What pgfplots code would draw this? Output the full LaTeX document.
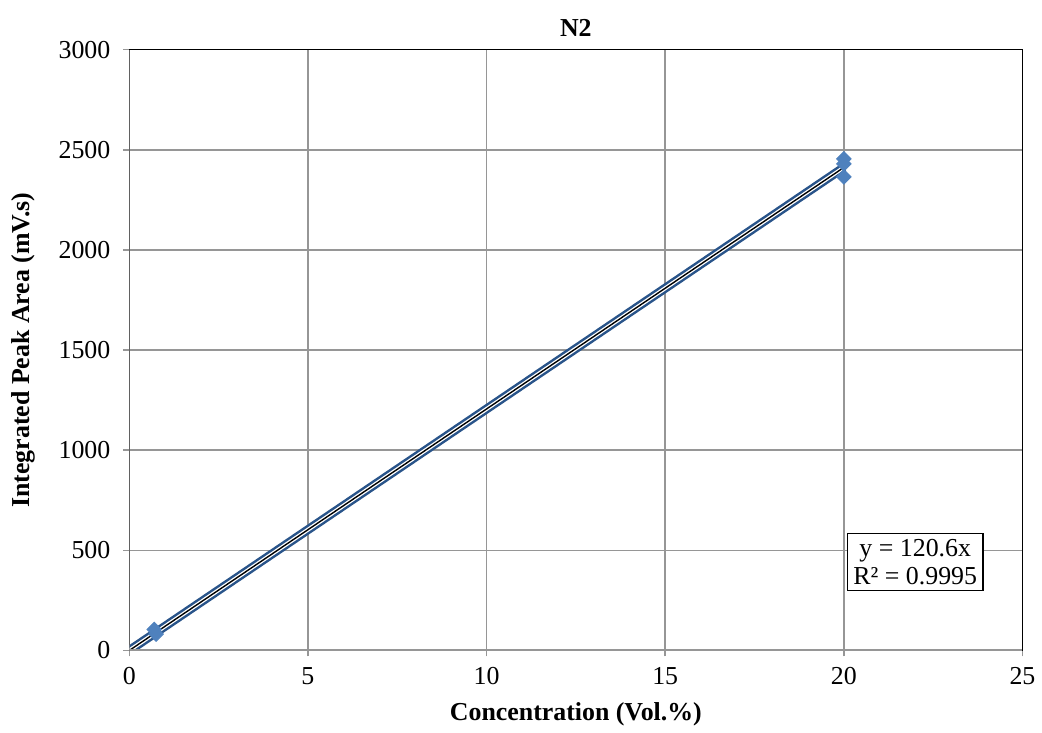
\documentclass[border=0pt]{standalone}
\usepackage{fontspec}
\setmainfont{Liberation Serif}
\usepackage{pgfplots}
\pgfplotsset{compat=1.18}
\usetikzlibrary{calc}

\definecolor{gridgray}{RGB}{150,150,150}
\definecolor{lineblue}{RGB}{41,84,138}
\definecolor{markblue}{RGB}{79,129,189}

\begin{document}
\begin{tikzpicture}
\begin{axis}[
    width=449pt, height=302pt,
    scale only axis,
    xmin=0, xmax=25, ymin=0, ymax=3000,
    xtick={0,5,...,25},
    ytick={0,500,...,3000},
    grid=major,
    grid style={gridgray, line width=0.75pt},
    axis line style={black, line width=0.75pt},
    tick pos=left,
    tick align=outside,
    major tick length=3pt,
    every tick/.style={gridgray, line width=0.75pt},
    ticklabel style={font=\fontsize{13}{15}\selectfont},
    /pgf/number format/assume math mode=true,
    /pgf/number format/1000 sep={},
    xticklabel style={anchor=north, yshift=-2pt},
    yticklabel style={anchor=east, xshift=-3pt},
    xlabel={\textbf{Concentration (Vol.\%)}},
    ylabel={\textbf{Integrated Peak Area (mV.s)}},
    label style={font=\fontsize{13}{15}\selectfont},
    xlabel style={at={($(rel axis cs:0.5,0)+(0,-32pt)$)}, anchor=center},
    ylabel style={at={($(rel axis cs:0,0.5)+(-53pt,0)$)}, anchor=center},
]
% series line (double)
\addplot[lineblue, line width=1.25pt, double=white, double distance=2pt, mark=none]
    coordinates {(0,0) (20,2412)};
% trend line y = 120.6x
\addplot[black, line width=0.7pt, mark=none] coordinates {(0,0) (20,2412)};
% data points
\addplot[only marks, mark=square*, mark size=2.6pt,
    mark options={rotate=45, fill=markblue, draw=markblue}]
    coordinates {(0.7,105) (0.75,82) (20,2455) (20,2430) (20,2365)};
\draw[gridgray, line width=1pt] (rel axis cs:0,0) -- (rel axis cs:0,1);
\draw[gridgray, line width=1pt] (rel axis cs:0,0) -- (rel axis cs:1,0);
\node[draw=black, line width=0.75pt, fill=white, align=center, inner sep=3pt,
    font=\fontsize{13}{14}\selectfont]
    at (axis cs:22,442) {y = 120.6x\\R² = 0.9995};
\coordinate (bl) at (rel axis cs:0,0);
\coordinate (tr) at (rel axis cs:1,1);
\coordinate (tc) at (rel axis cs:0.5,1);
\end{axis}
\node[font=\fontsize{13}{15}\selectfont\bfseries, anchor=center] at ($(tc)+(0,11pt)$) {N2};
\path ($(bl)+(-65pt,-39pt)$) rectangle ($(tr)+(7pt,25pt)$);
\end{tikzpicture}
\end{document}
